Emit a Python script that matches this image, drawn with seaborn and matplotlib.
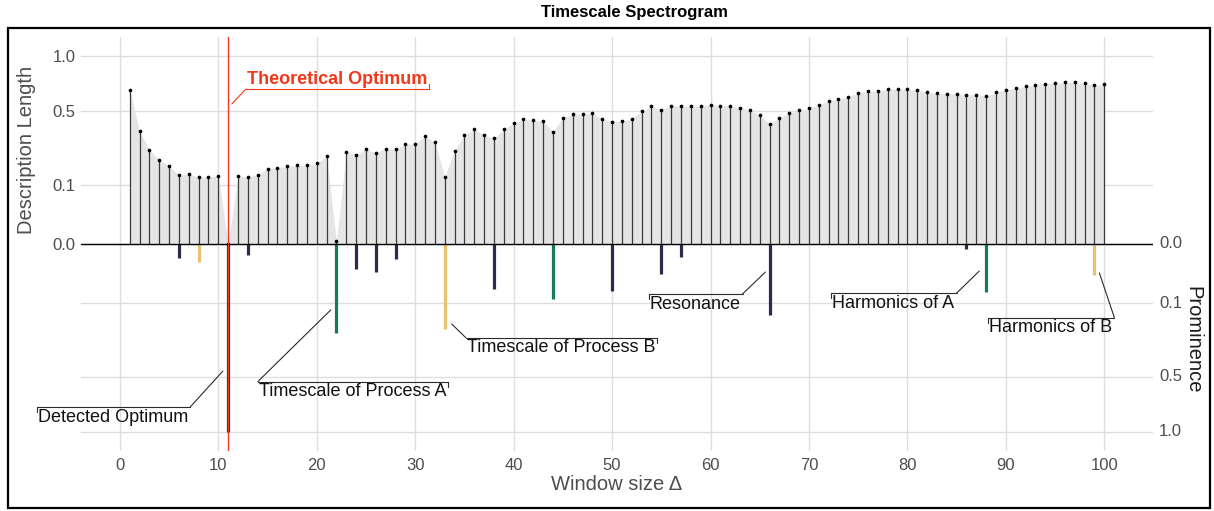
import numpy as np
import pandas as pd
import seaborn as sns
import matplotlib.pyplot as plt
from matplotlib.lines import Line2D
from matplotlib.patches import Rectangle
from matplotlib.transforms import IdentityTransform, blended_transform_factory

# ---------------- data ----------------
window = list(range(1, 101))
description_length = [
    0.675, 0.363, 0.249, 0.200, 0.174, 0.133, 0.139, 0.126, 0.127, 0.132,
    0.000, 0.131, 0.127, 0.135, 0.161, 0.165, 0.170, 0.175, 0.175, 0.184,
    0.220, 0.0002, 0.240, 0.225, 0.256, 0.233, 0.258, 0.253, 0.284, 0.284,
    0.329, 0.292, 0.128, 0.247, 0.334, 0.372, 0.334, 0.317, 0.372, 0.414,
    0.440, 0.433, 0.426, 0.357, 0.452, 0.476, 0.478, 0.483, 0.442, 0.424,
    0.426, 0.445, 0.498, 0.537, 0.511, 0.542, 0.537, 0.537, 0.537, 0.547,
    0.542, 0.539, 0.524, 0.508, 0.471, 0.405, 0.452, 0.486, 0.506, 0.520,
    0.547, 0.582, 0.593, 0.615, 0.646, 0.658, 0.661, 0.678, 0.681, 0.678,
    0.669, 0.652, 0.641, 0.638, 0.638, 0.632, 0.632, 0.620, 0.652, 0.672,
    0.687, 0.702, 0.714, 0.726, 0.732, 0.738, 0.738, 0.729, 0.711, 0.720,
]

peak_window = [6, 8, 11, 13, 22, 24, 26, 28, 33, 38, 44, 50, 55, 57, 66, 86, 88, 99]
peak_prominence = [0.0057, 0.0088, 1.0, 0.0036, 0.225, 0.0179, 0.0219, 0.0061, 0.204,
                   0.0584, 0.0868, 0.0627, 0.0257, 0.0047, 0.144, 0.0008, 0.0653, 0.0275]
peak_kind = ["other", "B", "other", "other", "A", "other", "other", "other", "B",
             "other", "A", "other", "other", "other", "other", "other", "A", "B"]

theoretical_optimum = 11

x_ticks = [0, 10, 20, 30, 40, 50, 60, 70, 80, 90, 100]
dl_ticks = [0.0, 0.1, 0.5, 1.0]
dl_tick_labels = ["0.0", "0.1", "0.5", "1.0"]
prom_ticks = [0.0, 0.1, 0.5, 1.0]
prom_tick_labels = ["0.0", "0.1", "0.5", "1.0"]

# annotations: label, line start (window, signed value), target (window, signed value), above?
annotations = [
    ("Theoretical Optimum", (12.79, 0.679), (11.37, 0.555), True),
    ("Detected Optimum", (-8.43, -0.752), (10.46, -0.457), False),
    ("Timescale of Process A", (14.01, -0.536), (21.42, -0.123), False),
    ("Timescale of Process B", (35.13, -0.248), (33.71, -0.181), False),
    ("Resonance", (53.70, -0.0708), (65.58, -0.0222), False),
    ("Harmonics of A", (72.28, -0.0686), (87.30, -0.0207), False),
    ("Harmonics of B", (88.22, -0.154), (99.50, -0.0237), False),
]

# ---------------- styles ----------------
RED = "#F0381A"
KIND_COLORS = {"other": "#33294F", "A": "#157A5E", "B": "#E8C270"}
TICK_GRAY = "#4D4D4D"
GRID = "#DEDEDE"

sns.set_theme(style="whitegrid")
plt.rcParams['font.family'] = ['Liberation Sans', 'DejaVu Sans']

W, H = 1214, 511
fig = plt.figure(figsize=(W / 100, H / 100), dpi=100)
fig.patch.set_facecolor("white")
left, right, top, bottom = 81, 1153, 37.2, 450.8
ax = fig.add_axes([left / W, (H - bottom) / H, (right - left) / W, (bottom - top) / H])
ax.set_facecolor("white")

fwd = lambda y: np.sign(y) * np.sqrt(np.abs(y))
inv = lambda y: np.sign(y) * np.square(y)
ax.set_yscale("function", functions=(fwd, inv))
ax.set_xlim(-3.95, 104.95)
ax.set_ylim(-1.21, 1.21)

for s in ax.spines.values():
    s.set_visible(False)

# grid
all_y = sorted(set([-v for v in prom_ticks] + dl_ticks))
ax.set_yticks(all_y)
ax.set_yticklabels(["" if v < 0 else dl_tick_labels[dl_ticks.index(v)] for v in all_y])
ax.set_xticks(x_ticks)
ax.set_xticklabels([str(v) for v in x_ticks])
ax.grid(True, color=GRID, lw=1.0)
ax.set_axisbelow(True)
ax.tick_params(axis="both", length=0, labelsize=12, labelcolor=TICK_GRAY)
ax.tick_params(axis="x", pad=5)
ax.tick_params(axis="y", pad=4)

df = pd.DataFrame({"window": window, "dl": description_length})
pk = pd.DataFrame({"window": peak_window, "prom": peak_prominence, "kind": peak_kind})
pk["neg"] = -pk["prom"]

# area under description length
ax.fill_between(df["window"], 0, df["dl"], color="#E5E5E5", lw=0, zorder=1.5)
# stems up
ax.vlines(df["window"], 0, df["dl"], color="#3A3A3A", lw=0.9, zorder=3)
# prominence stems down
for kind, sub in pk.groupby("kind"):
    ax.vlines(sub["window"], 0, sub["neg"], color=KIND_COLORS[kind], lw=2.3, zorder=3)
# zero line
ax.axhline(0, color="black", lw=1.0, zorder=4)
# dots
sns.scatterplot(data=df, x="window", y="dl", color="black", s=7, linewidth=0,
                ax=ax, zorder=5, legend=False)
ax.set_xlabel("")
ax.set_ylabel("")
# theoretical optimum
ax.axvline(theoretical_optimum, color=RED, lw=1.0, zorder=6)

# right-hand prominence tick labels
btrans = blended_transform_factory(ax.transAxes, ax.transData)
for v, lab in zip(prom_ticks, prom_tick_labels):
    ax.text(1.0 + 6 / (right - left), -v, lab, transform=btrans, ha="left", va="center",
            fontsize=12, color=TICK_GRAY)

# axis titles
fig.text(617 / W, 1 - 484 / H, "Window size \u0394", ha="center", va="center",
         fontsize=14.5, color=TICK_GRAY)
fig.text(26 / W, 1 - 150 / H, "Description Length", ha="center", va="center",
         rotation=90, fontsize=14.5, color=TICK_GRAY)
fig.text(1193 / W, 1 - 340 / H, "Prominence", ha="center", va="center",
         rotation=270, fontsize=14.5, color="#1A1A1A")

# title
fig.text(634 / W, 1 - 12 / H, "Timescale Spectrogram", ha="center", va="center",
         fontsize=12, fontweight="bold", color="black")

# frame
fig.add_artist(Rectangle((8 / W, 3 / H), 1202 / W, 480 / H, transform=fig.transFigure,
                         fill=False, ec="black", lw=1.6))

# annotations
fig.canvas.draw()
renderer = fig.canvas.get_renderer()
ident = IdentityTransform()
for label, (x0, y0), (tx, ty), above in annotations:
    is_red = label.startswith("Theoretical")
    col = RED if is_red else "#111111"
    lcol = RED if is_red else "#2A2A2A"
    px0, py0 = ax.transData.transform((x0, y0))
    ptx, pty = ax.transData.transform((tx, ty))
    if above:
        t = fig.text(px0 + 1, py0 + 1, label, transform=ident, ha="left", va="bottom",
                     fontsize=13, color=col, fontweight="bold" if is_red else "normal")
    else:
        t = fig.text(px0 + 1, py0 - 1.5, label, transform=ident, ha="left", va="top",
                     fontsize=13, color=col, fontweight="bold" if is_red else "normal")
    bb = t.get_window_extent(renderer)
    px1 = bb.x1 + 2
    fig.add_artist(Line2D([px0, px1], [py0, py0], transform=ident, color=lcol, lw=0.8))
    leader_right = ptx > (px0 + px1) / 2
    lx = px1 if leader_right else px0
    kx = px0 if leader_right else px1
    dk = 5 if above else -5
    fig.add_artist(Line2D([kx, kx], [py0, py0 + dk], transform=ident, color=lcol, lw=0.8))
    fig.add_artist(Line2D([lx, ptx], [py0, pty], transform=ident, color=lcol, lw=0.8))

fig.savefig("out.png", dpi=100)
